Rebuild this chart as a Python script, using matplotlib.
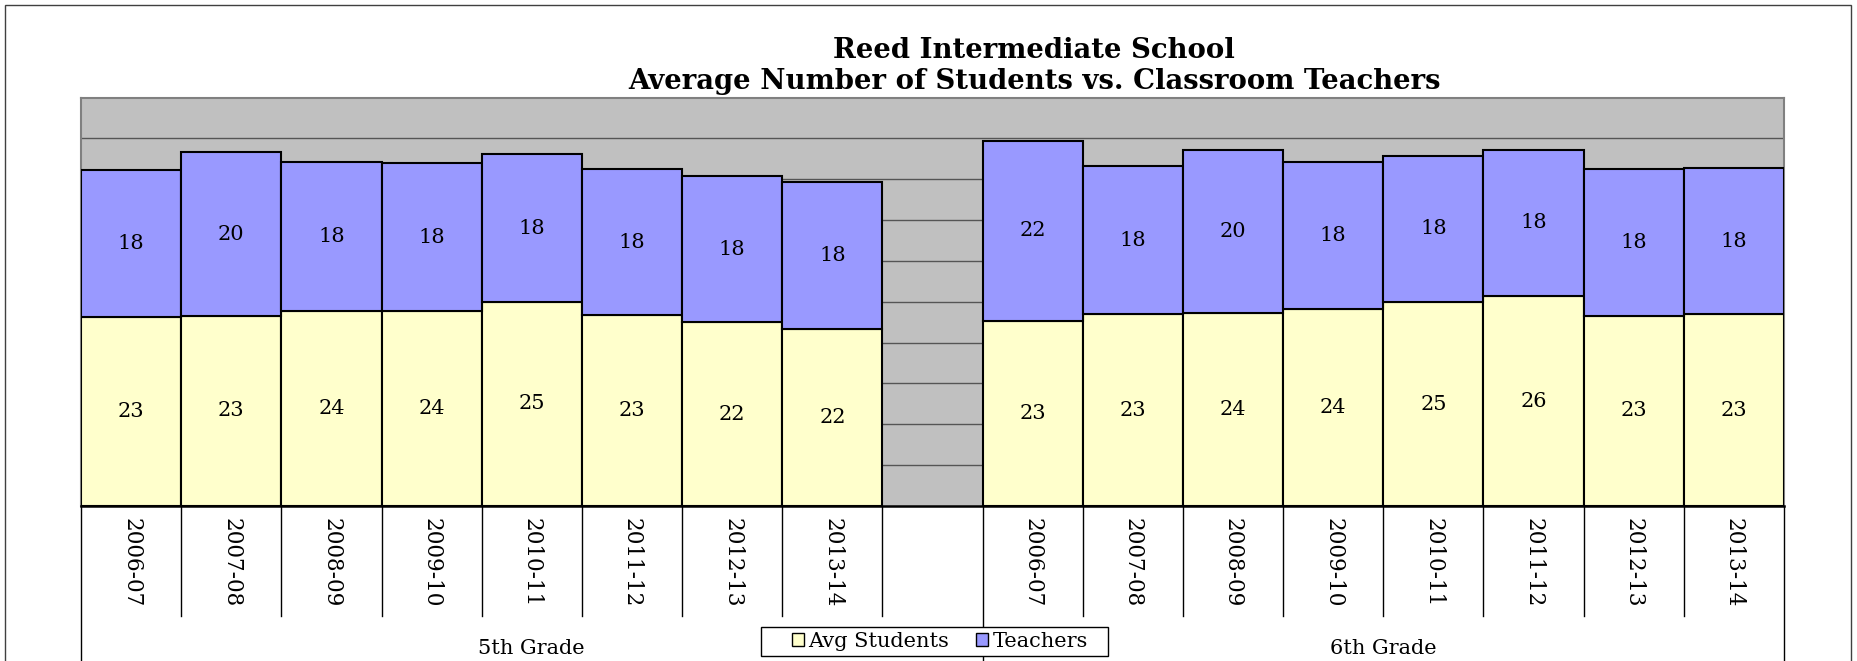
import matplotlib
matplotlib.use('Agg')
import matplotlib.pyplot as plt
from matplotlib.patches import Patch, Rectangle
import numpy as np

# values (labels are the rounded values)
years = ['2006-07', '2007-08', '2008-09', '2009-10', '2010-11', '2011-12', '2012-13', '2013-14']
grades = ['5th Grade', '6th Grade']
students_5th = [23.08, 23.28, 23.90, 23.86, 25.00, 23.32, 22.47, 21.70]
teachers_5th = [18.01, 20.02, 18.17, 18.09, 18.05, 17.94, 17.97, 17.92]
students_6th = [22.70, 23.49, 23.65, 24.10, 24.92, 25.65, 23.28, 23.45]
teachers_6th = [21.95, 18.09, 19.98, 17.97, 17.97, 17.98, 17.98, 17.97]

STUDENT_COLOR = '#FFFFCC'
TEACHER_COLOR = '#9999FF'
SERIF = 'DejaVu Serif'

W, H = 1857, 661
fig = plt.figure(figsize=(W / 100, H / 100), dpi=100)

# outer chart frame
fig.add_artist(Rectangle((5 / W, -0.1), (1851 - 5) / W, 1.1 - 4.5 / H,
                         transform=fig.transFigure, fill=False,
                         edgecolor='#404040', linewidth=1))

left, right, top, bottom = 81, 1784, 97.5, 506
ax = fig.add_axes([left / W, 1 - bottom / H, (right - left) / W, (bottom - top) / H])
ax.set_facecolor('#C0C0C0')

n = len(years)
slots = 2 * n + 1
x5 = np.arange(n) + 0.5
x6 = np.arange(n) + n + 1.5
x = np.concatenate([x5, x6])
students = np.array(students_5th + students_6th)
teachers = np.array(teachers_5th + teachers_6th)

b1 = ax.bar(x, students, width=1, color=STUDENT_COLOR, edgecolor='black', linewidth=1.5, zorder=3)
b2 = ax.bar(x, teachers, width=1, bottom=students, color=TEACHER_COLOR, edgecolor='black',
            linewidth=1.5, zorder=3)
ax.bar_label(b1, labels=[f'{v:.0f}' for v in students], label_type='center',
             fontsize=15, family=SERIF, zorder=4)
ax.bar_label(b2, labels=[f'{v:.0f}' for v in teachers], label_type='center',
             fontsize=15, family=SERIF, zorder=4)

ax.set_xlim(0, slots)
ax.set_ylim(0, 50)
ax.set_yticks(np.arange(5, 50, 5))
ax.yaxis.grid(True, color='#555555', linewidth=1)
ax.set_axisbelow(True)
ax.tick_params(left=False, labelleft=False, bottom=False, labelbottom=False)
for s in ['top', 'left', 'right']:
    ax.spines[s].set_color('#808080')
    ax.spines[s].set_linewidth(1.5)
ax.spines['bottom'].set_color('black')
ax.spines['bottom'].set_linewidth(1.8)

# category labels and separators below the axis
trans = ax.get_xaxis_transform()
ph = bottom - top
for xi, yr in zip(x, years + years):
    ax.text(xi, -(518 - bottom) / ph, yr, rotation=270, ha='center', va='top',
            fontsize=15.5, family=SERIF, transform=trans)
for k in range(slots + 1):
    low = 680 if k in (0, n + 1, slots) else 616
    ax.plot([k, k], [0, -(low - bottom) / ph], color='black', linewidth=1,
            transform=trans, clip_on=False)

# group labels
ax.text((n + 1) / 2, -(654 - bottom) / ph, grades[0], ha='center', va='baseline',
        fontsize=15, family=SERIF, transform=trans)
ax.text(n + 1 + n / 2, -(654 - bottom) / ph, grades[1], ha='center', va='baseline',
        fontsize=15, family=SERIF, transform=trans)

# title
fig.text(1034 / W, 1 - 58 / H, 'Reed Intermediate School', ha='center', va='baseline',
         fontsize=19.8, fontweight='bold', family=SERIF)
fig.text(1034 / W, 1 - 89 / H, 'Average Number of Students vs. Classroom Teachers',
         ha='center', va='baseline', fontsize=19.8, fontweight='bold', family=SERIF)

# legend: box drawn separately to get the wide padding of the original
fig.add_artist(Rectangle((761 / W, 1 - 656 / H), (1108 - 761) / W, 29 / H,
                         transform=fig.transFigure, facecolor='white',
                         edgecolor='black', linewidth=1, zorder=5))
handles = [Patch(facecolor=STUDENT_COLOR, edgecolor='black'),
           Patch(facecolor=TEACHER_COLOR, edgecolor='black')]
leg = fig.legend(handles, ['Avg Students', 'Teachers'], loc='center left',
                 bbox_to_anchor=(792 / W, 1 - 641.5 / H), ncol=2, frameon=False,
                 handlelength=0.58, handleheight=0.58, handletextpad=0.2,
                 columnspacing=1.3, borderpad=0, borderaxespad=0,
                 prop={'family': SERIF, 'size': 15})
leg.set_zorder(6)

fig.savefig('out.png', dpi=100)
